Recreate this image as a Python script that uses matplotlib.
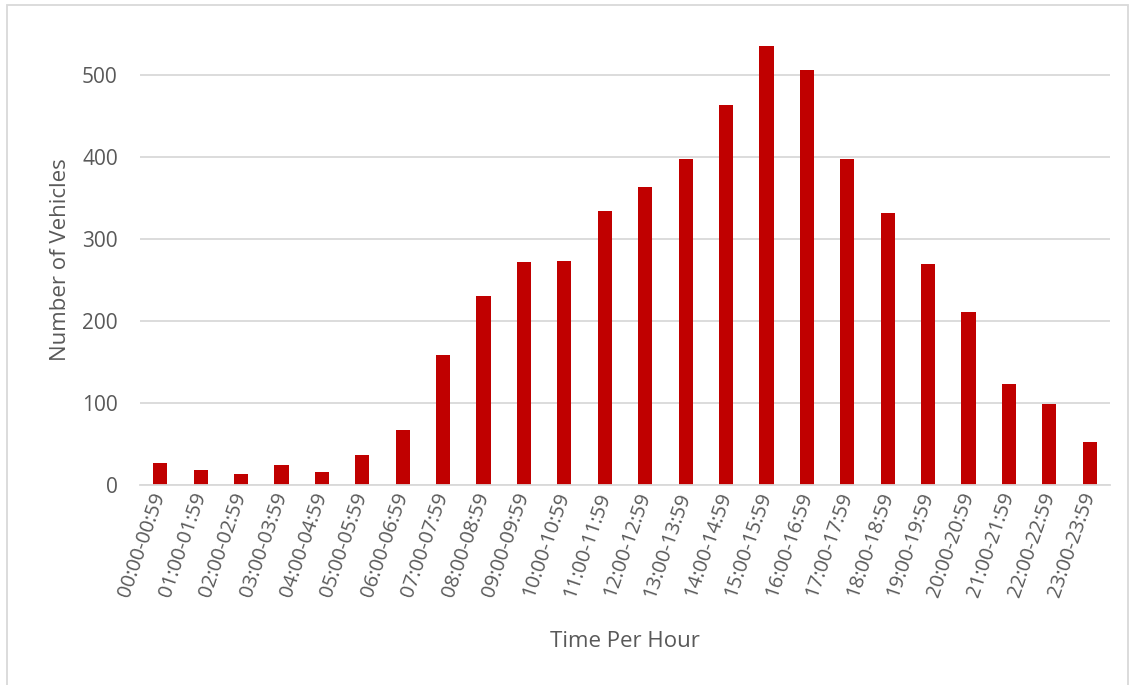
import matplotlib
matplotlib.use('Agg')
import matplotlib.pyplot as plt
from matplotlib.patches import Rectangle

# Datos
hours = [f"{h:02d}:00-{h:02d}:59" for h in range(24)]
vehicles = [27, 18, 13, 24, 16, 37, 67, 159, 230, 272, 273, 334,
            363, 398, 463, 535, 506, 397, 332, 269, 211, 123, 99, 52]
yticks = [0, 100, 200, 300, 400, 500]

W, H = 1133, 685
plt.rcParams['font.family'] = ['Open Sans', 'DejaVu Sans']
text_color = '#595959'
grid_color = '#d9d9d9'

fig = plt.figure(figsize=(W / 100, H / 100), dpi=100)
ax = fig.add_axes([140 / W, 1 - 485 / H, (1110 - 140) / W, (485 - 34) / H])

x = range(len(hours))
ax.bar(x, vehicles, width=0.35, color='#c00000', zorder=3)

ax.set_xlim(-0.5, len(hours) - 0.5)
ax.set_ylim(0, 550)
ax.set_yticks(yticks)
ax.set_xticks(list(x))
ax.set_xticklabels(hours, rotation=71, ha='right', va='center',
                   rotation_mode='anchor')

ax.grid(axis='y', color=grid_color, linewidth=1.3, zorder=0)
for s in ['top', 'right', 'left']:
    ax.spines[s].set_visible(False)
ax.spines['bottom'].set_color(grid_color)
ax.spines['bottom'].set_linewidth(1.3)
ax.spines['bottom'].set_zorder(4)

ax.tick_params(axis='y', length=0, pad=16, labelsize=15, labelcolor=text_color)
ax.tick_params(axis='x', length=0, pad=6, labelsize=14.5, labelcolor=text_color)

ax.set_xlabel('Time Per Hour', fontsize=16, color=text_color, labelpad=22)
ax.set_ylabel('Number of Vehicles', fontsize=16, color=text_color, labelpad=8)

# Borde exterior del gráfico
fig.patches.append(Rectangle((7 / W, -0.05), (1128 - 7) / W, 1.05 - 5 / H,
                             transform=fig.transFigure, fill=False,
                             edgecolor='#d9d9d9', linewidth=1.3))

fig.savefig('out.png', dpi=100)
